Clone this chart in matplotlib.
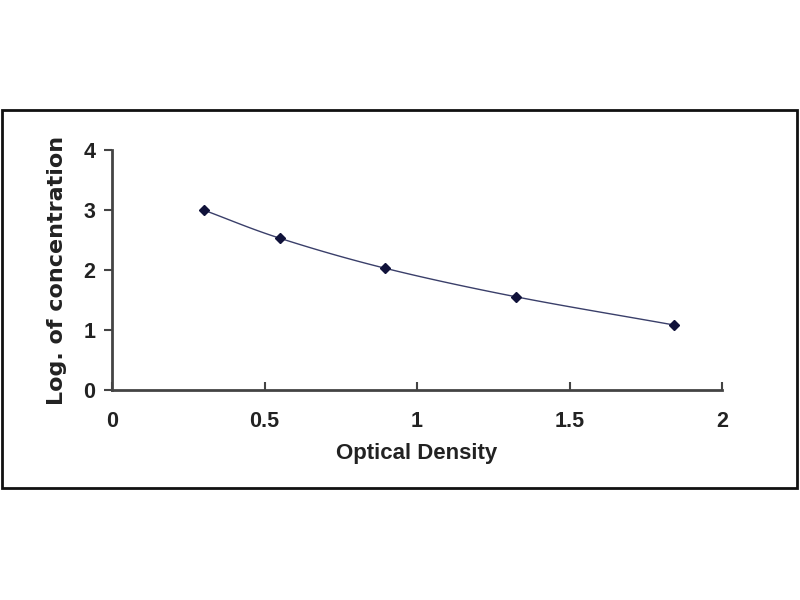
import numpy as np
import matplotlib
matplotlib.use('Agg')
from matplotlib import pyplot as plt
from matplotlib.patches import Rectangle

optical_density = [0.30, 0.55, 0.895, 1.323, 1.843]
log_conc = [3.00, 2.53, 2.03, 1.555, 1.083]

x_ticks = [0, 0.5, 1, 1.5, 2]
x_tick_labels = ['0', '0.5', '1', '1.5', '2']
y_ticks = [0, 1, 2, 3, 4]


def catmull_rom(xs, ys, n=30):
    # smooth curve through the points, like a spreadsheet's "smoothed line"
    p = np.column_stack([xs, ys])
    p = np.vstack([2 * p[0] - p[1], p, 2 * p[-1] - p[-2]])
    out = []
    for i in range(1, len(p) - 2):
        p0, p1, p2, p3 = p[i - 1], p[i], p[i + 1], p[i + 2]
        t = np.linspace(0, 1, n)[:, None]
        seg = 0.5 * ((2 * p1) + (-p0 + p2) * t + (2 * p0 - 5 * p1 + 4 * p2 - p3) * t ** 2
                     + (-p0 + 3 * p1 - 3 * p2 + p3) * t ** 3)
        out.append(seg)
    c = np.vstack(out)
    return c[:, 0], c[:, 1]


plt.rcParams['font.family'] = ['Liberation Sans', 'DejaVu Sans']
plt.rcParams['font.weight'] = 'bold'

fig = plt.figure(figsize=(8, 6), dpi=100)
fig.patches.append(Rectangle((0.002, 1 - 488 / 600), 0.994, 378 / 600, transform=fig.transFigure,
                             fill=False, edgecolor='#111111', linewidth=2))

ax = fig.add_axes([0.14, 0.35, 0.7625, 0.40])
cx, cy = catmull_rom(optical_density, log_conc)
ax.plot(cx, cy, color='#3a3f6a', linewidth=1.0)
ax.plot(optical_density, log_conc, linestyle='none', marker='D', markersize=5,
        color='#10123a')

ax.set_xlim(0, 2)
ax.set_ylim(0, 4)
ax.set_xticks(x_ticks)
ax.set_xticklabels(x_tick_labels)
ax.set_yticks(y_ticks)
for s in ['top', 'right']:
    ax.spines[s].set_visible(False)
for s in ['left', 'bottom']:
    ax.spines[s].set_color('#444444')
    ax.spines[s].set_linewidth(2)
ax.tick_params(axis='x', direction='in', length=6, width=1.5, color='#444444',
               labelsize=15.5, pad=15, labelcolor='#222222')
ax.tick_params(axis='y', direction='out', length=6, width=1.5, color='#444444',
               labelsize=15.5, pad=6, labelcolor='#222222')
ax.set_xlabel('Optical Density', fontsize=16, fontweight='bold', color='#222222', labelpad=8)
ax.set_ylabel('Log. of concentration', fontsize=16, fontweight='bold', color='#222222',
              labelpad=12, family='DejaVu Sans')

fig.savefig('out.png', dpi=100)
